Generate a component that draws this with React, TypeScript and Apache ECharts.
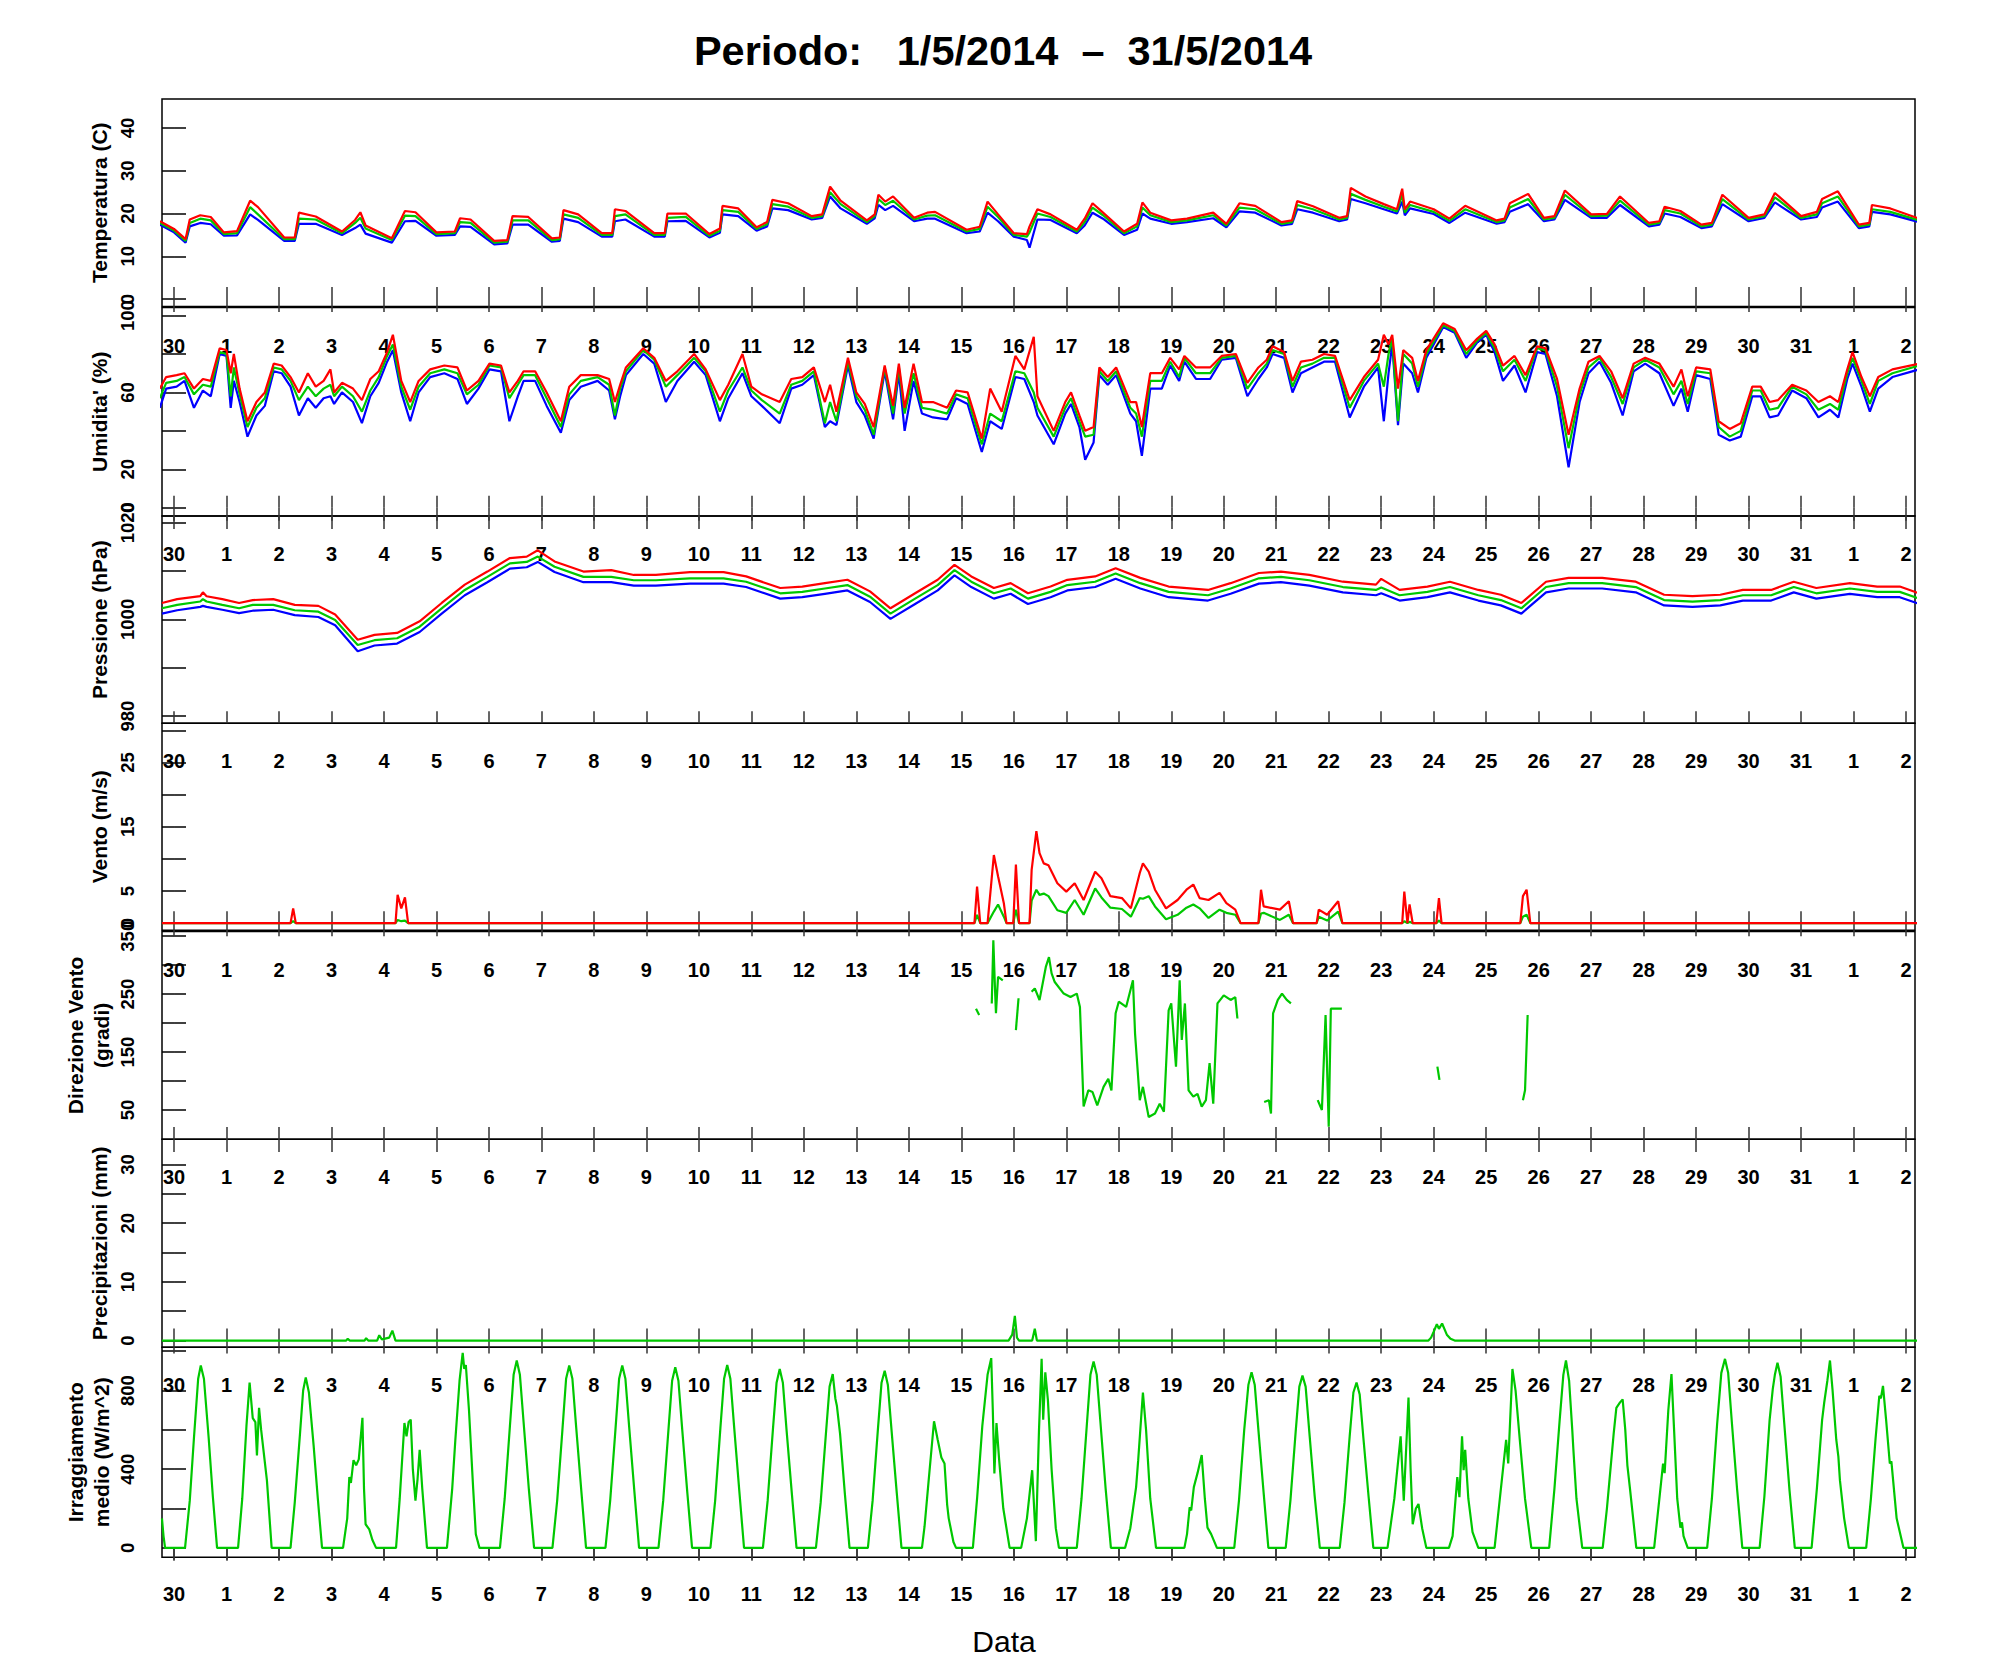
import React, { useEffect, useRef } from 'react';
import * as echarts from 'echarts';

// ---------------- DATA ----------------
// x values are days counted from 30 April 2014 00:00
const dayLabels = ['30','1','2','3','4','5','6','7','8','9','10','11','12','13','14','15','16','17','18','19','20','21','22','23','24','25','26','27','28','29','30','31','1','2'];

// [day, max(red), mean(green), min(blue)]
const tempRows: number[][] = [
[-0.27,18.2,17.8,17.4],[0.0,16.4,16.0,15.6],[0.22,14.0,13.6,13.2],[0.3,18.6,17.8,17.0],[0.5,19.6,18.8,17.8],[0.7,19.2,18.4,17.5],[0.95,15.6,15.2,14.8],
[1.2,15.9,15.4,14.9],[1.45,23.0,21.5,19.8],[1.6,21.5,19.8,18.5],[2.1,14.4,14.0,13.6],[2.3,14.4,14.0,13.6],[2.38,20.2,18.8,17.6],[2.7,19.3,18.6,17.6],
[3.2,15.8,15.4,15.0],[3.45,18.5,17.8,16.6],[3.55,20.3,19.0,17.4],[3.65,17.2,16.5,15.3],[4.15,14.2,13.8,13.2],[4.4,20.6,19.5,18.2],[4.6,20.3,19.4,18.3],
[5.0,15.6,15.2,14.8],[5.35,15.8,15.4,15.0],[5.45,18.9,18.0,17.0],[5.65,18.6,17.8,16.9],[6.1,13.6,13.2,12.8],[6.35,13.8,13.4,13.0],[6.45,19.4,18.4,17.4],
[6.75,19.2,18.4,17.4],[7.2,14.2,13.8,13.4],[7.35,14.4,14.0,13.6],[7.42,20.8,19.8,18.8],[7.7,19.8,19.0,18.0],[8.15,15.4,15.0,14.6],[8.35,15.4,15.0,14.6],
[8.4,21.0,19.4,18.2],[8.6,20.6,19.8,18.6],[9.15,15.4,15.0,14.6],[9.35,15.4,15.0,14.6],[9.4,20.0,19.0,18.2],[9.75,20.0,19.2,18.3],[10.2,15.2,14.8,14.4],
[10.4,16.5,16.0,15.5],[10.45,21.8,20.8,19.8],[10.75,21.2,20.4,19.4],[11.1,16.8,16.4,16.0],[11.3,18.0,17.5,17.0],[11.4,23.2,22.2,21.2],[11.7,22.4,21.6,20.8],
[12.15,19.4,19.0,18.6],[12.35,19.8,19.4,19.0],[12.5,26.3,25.0,24.0],[12.7,23.0,22.2,21.2],[13.2,18.4,18.0,17.6],[13.35,19.8,19.4,18.9],[13.42,24.4,23.4,22.0],
[13.55,22.8,22.0,20.8],[13.7,24.0,23.0,21.8],[14.1,19.0,18.6,18.2],[14.35,20.2,19.5,18.8],[14.5,20.4,19.6,18.8],[15.1,16.2,15.8,15.4],[15.35,16.9,16.4,15.8],
[15.5,22.8,21.6,20.2],[15.7,19.8,19.2,18.2],[16.0,15.4,15.0,14.6],[16.25,15.2,14.6,13.8],[16.3,17.0,15.6,12.0],[16.45,21.0,20.0,18.6],[16.7,19.8,19.2,18.5],
[17.2,16.2,15.8,15.4],[17.35,18.8,18.0,17.2],[17.5,22.4,21.4,20.2],[17.7,20.2,19.6,18.8],[18.1,15.8,15.4,15.0],[18.35,17.6,17.0,16.2],[18.45,22.6,21.4,20.0],
[18.6,20.2,19.6,18.8],[19.0,18.4,18.0,17.6],[19.3,18.8,18.4,18.0],[19.8,20.2,19.6,18.9],[20.05,17.6,17.2,16.8],[20.3,22.4,21.4,20.5],[20.6,21.8,21.0,20.2],
[21.1,18.0,17.6,17.2],[21.3,18.4,18.0,17.6],[21.4,22.9,22.0,21.0],[21.7,21.7,21.0,20.2],[22.2,19.0,18.6,18.2],[22.35,19.4,19.0,18.6],[22.42,26.0,24.6,23.4],
[22.7,24.0,23.2,22.4],[23.05,22.2,21.6,21.0],[23.3,21.0,20.5,20.0],[23.4,25.8,24.4,22.8],[23.45,21.0,20.2,19.6],[23.55,22.8,22.0,21.2],[24.0,21.0,20.4,19.9],
[24.3,18.8,18.3,17.8],[24.6,21.8,21.0,20.2],[25.2,18.4,18.0,17.6],[25.35,18.8,18.4,18.0],[25.45,22.4,21.4,20.4],[25.8,24.6,23.4,22.2],[26.1,19.0,18.6,18.2],
[26.3,19.4,19.0,18.6],[26.5,25.4,24.4,23.2],[27.0,19.8,19.4,19.0],[27.3,19.9,19.5,19.0],[27.55,24.0,23.0,22.0],[28.1,17.8,17.4,17.0],[28.3,18.2,17.8,17.4],
[28.4,21.6,20.8,20.0],[28.7,20.6,20.0,19.2],[29.1,17.4,17.0,16.6],[29.3,17.8,17.4,17.0],[29.5,24.4,23.4,22.2],[30.0,19.0,18.6,18.2],[30.3,19.8,19.4,19.0],
[30.5,24.8,23.8,22.6],[30.65,23.2,22.4,21.4],[31.0,19.4,19.0,18.6],[31.3,20.4,19.8,19.2],[31.4,23.4,22.4,21.4],[31.7,25.2,24.0,22.8],[32.1,17.4,17.0,16.6],
[32.3,17.8,17.4,17.0],[32.35,22.0,21.0,20.4],[32.7,21.2,20.4,19.8],[33.25,18.8,18.4,18.0]
];

// [day, max(red), mean(green), min(blue)]
const humRows: number[][] = [
[-0.27,62,57,52],[-0.15,68,65,62],[0.05,69,66,63],[0.2,70,68,66],[0.38,62,59,52],[0.55,67,64,61],[0.7,66,63,58],[0.87,83,81,80],[1.0,82,80,79],
[1.08,70,58,52],[1.14,80,73,66],[1.25,62,59,55],[1.4,45,42,37],[1.57,55,52,48],[1.73,60,57,53],[1.9,75,73,71],[2.05,74,72,70],[2.22,68,66,63],
[2.38,60,56,48],[2.55,70,63,57],[2.7,63,58,52],[2.85,66,62,57],[2.98,72,64,58],[3.05,60,58,54],[3.2,65,63,60],[3.41,62,58,55],[3.58,56,50,44],
[3.74,67,61,58],[3.9,71,68,65],[4.06,81,79,76],[4.17,90,85,82],[4.33,66,63,60],[4.5,55,51,45],[4.66,66,63,60],[4.88,72,70,68],[5.15,74,72,70],
[5.4,73,70,67],[5.58,61,59,54],[5.8,66,64,62],[6.01,75,74,72],[6.23,74,73,71],[6.39,60,57,45],[6.55,66,64,58],[6.66,71,69,66],[6.88,71,69,66],
[7.1,60,57,53],[7.37,45,42,39],[7.53,63,59,56],[7.75,69,66,63],[8.07,69,68,66],[8.29,67,64,61],[8.4,55,48,46],[8.5,64,62,58],[8.61,73,71,69],
[8.94,83,82,80],[9.15,78,77,75],[9.37,66,63,55],[9.59,71,69,66],[9.91,80,78,76],[10.13,72,71,69],[10.4,56,50,45],[10.56,64,61,57],[10.83,80,73,70],
[11.0,63,61,58],[11.2,59,56,53],[11.54,55,49,44],[11.76,67,64,62],[11.97,68,66,64],[12.19,73,71,69],[12.4,55,44,42],[12.5,64,55,45],[12.62,50,45,43],
[12.84,78,76,74],[13.0,60,58,55],[13.16,54,51,48],[13.33,42,38,36],[13.54,74,73,71],[13.7,53,49,46],[13.81,75,73,70],[13.92,52,49,40],[14.09,75,70,66],
[14.25,55,52,49],[14.46,55,51,47],[14.73,52,49,46],[14.9,61,59,57],[15.12,60,57,54],[15.39,36,33,29],[15.55,62,49,45],[15.77,50,45,41],[16.03,79,71,68],
[16.2,72,70,67],[16.38,89,60,55],[16.45,58,52,48],[16.76,40,37,33],[16.98,55,52,49],[17.09,60,57,54],[17.25,48,45,42],[17.36,40,37,25],[17.52,42,38,34],
[17.63,73,71,69],[17.79,68,66,64],[17.95,73,71,69],[18.22,55,52,49],[18.33,55,49,45],[18.44,42,37,27],[18.6,70,66,62],[18.82,70,66,62],[18.98,78,76,74],
[19.15,72,68,66],[19.25,79,78,76],[19.47,73,70,67],[19.74,73,70,67],[19.96,79,78,77],[20.23,80,79,78],[20.45,65,62,58],[20.66,73,70,67],[20.82,77,75,73],
[20.93,84,82,80],[21.15,81,80,78],[21.31,66,63,60],[21.47,76,73,70],[21.69,77,75,73],[21.91,80,78,76],[22.12,79,78,76],[22.4,56,52,47],[22.67,68,66,63],
[22.94,77,75,73],[23.05,90,63,45],[23.14,85,80,70],[23.21,90,88,85],[23.32,62,45,43],[23.42,82,80,75],[23.59,78,75,70],[23.7,66,63,60],[23.86,82,80,78],
[24.18,96,95,94],[24.4,93,92,91],[24.62,82,80,78],[24.83,88,87,86],[25.0,92,91,90],[25.16,85,83,81],[25.32,74,71,66],[25.54,79,77,74],[25.75,69,66,60],
[25.97,84,83,81],[26.13,83,82,80],[26.35,67,63,58],[26.57,38,31,21],[26.78,62,59,55],[26.95,76,73,70],[27.16,79,78,76],[27.38,71,68,65],[27.6,57,54,48],
[27.81,75,73,71],[28.03,78,77,75],[28.3,75,73,70],[28.57,63,59,53],[28.72,72,66,62],[28.84,58,54,50],[29.0,73,71,69],[29.27,72,70,67],[29.43,45,42,38],
[29.64,41,37,35],[29.85,44,40,37],[30.07,63,61,58],[30.23,63,61,58],[30.4,55,51,47],[30.56,56,52,48],[30.83,64,63,61],[31.1,61,59,57],[31.33,55,51,47],
[31.55,58,54,51],[31.71,55,51,47],[31.88,72,70,67],[31.98,81,78,75],[32.15,68,66,63],[32.31,58,54,50],[32.47,68,66,62],[32.74,72,70,68],[33.25,75,74,72]
];

// [day, max(red), mean(green), min(blue)]
const presRows: number[][] = [
[-0.23,1003.4,1002.3,1001.2],[0.06,1004.2,1003.0,1001.9],[0.5,1004.8,1003.7,1002.6],[0.55,1005.6,1004.2,1002.8],[0.62,1004.8,1003.7,1002.6],
[0.92,1004.2,1003.0,1002.0],[1.24,1003.4,1002.3,1001.3],[1.5,1004.0,1003.0,1001.8],[1.89,1004.2,1003.0,1002.0],[2.3,1003.0,1001.9,1000.9],
[2.75,1002.8,1001.6,1000.5],[3.07,1001.0,999.9,998.8],[3.5,995.8,994.7,993.4],[3.82,996.8,995.7,994.6],[4.25,997.2,996.1,995.0],
[4.68,999.6,998.5,997.4],[5.1,1003.4,1002.3,1001.2],[5.54,1007.2,1006.1,1005.0],[5.97,1009.9,1008.8,1007.7],[6.4,1012.7,1011.6,1010.5],
[6.72,1013.0,1011.9,1010.8],[6.93,1014.3,1013.0,1011.9],[7.25,1012.0,1010.9,1009.8],[7.8,1009.9,1008.8,1007.7],[8.33,1010.2,1008.8,1007.7],
[8.76,1009.2,1008.1,1007.0],[9.18,1009.2,1008.1,1007.0],[9.83,1009.8,1008.5,1007.4],[10.47,1009.8,1008.5,1007.4],[10.9,1008.9,1007.8,1006.7],
[11.55,1006.5,1005.4,1004.3],[11.97,1006.8,1005.7,1004.6],[12.4,1007.5,1006.4,1005.3],[12.83,1008.2,1007.1,1006.0],[13.26,1005.8,1004.7,1003.6],
[13.65,1002.3,1001.2,1000.1],[14.12,1005.4,1004.3,1003.2],[14.55,1008.2,1007.1,1006.0],[14.87,1011.3,1010.2,1009.1],[15.19,1008.9,1007.8,1006.7],
[15.62,1006.5,1005.4,1004.3],[15.94,1007.5,1006.4,1005.3],[16.27,1005.4,1004.3,1003.2],[16.7,1006.8,1005.7,1004.6],[17.02,1008.2,1007.1,1006.0],
[17.55,1008.9,1007.8,1006.7],[17.94,1010.6,1009.5,1008.4],[18.41,1008.6,1007.5,1006.4],[18.95,1006.8,1005.7,1004.6],[19.7,1006.1,1005.0,1003.9],
[20.13,1007.5,1006.4,1005.3],[20.67,1009.6,1008.5,1007.4],[21.09,1009.9,1008.8,1007.7],[21.63,1009.2,1008.1,1007.0],[22.27,1007.8,1006.7,1005.6],
[22.9,1007.2,1006.1,1005.0],[23.0,1008.4,1006.6,1005.4],[23.35,1006.1,1005.0,1003.9],[23.88,1006.8,1005.7,1004.6],[24.31,1007.8,1006.7,1005.6],
[24.85,1006.1,1005.0,1003.9],[25.28,1005.1,1004.0,1002.9],[25.67,1003.4,1002.3,1001.2],[26.14,1007.8,1006.7,1005.6],[26.57,1008.6,1007.5,1006.4],
[27.21,1008.6,1007.5,1006.4],[27.85,1007.8,1006.7,1005.6],[28.39,1005.1,1004.0,1002.9],[28.93,1004.8,1003.7,1002.6],[29.46,1005.1,1004.0,1002.9],
[29.89,1006.1,1005.0,1003.9],[30.43,1006.1,1005.0,1003.9],[30.86,1007.8,1006.7,1005.6],[31.29,1006.5,1005.4,1004.3],[31.93,1007.5,1006.4,1005.3],
[32.45,1006.8,1005.7,1004.6],[32.88,1006.8,1005.7,1004.6],[33.25,1005.4,1004.3,1003.2]
];

// [day, gust(red), mean(green)]
const windRows: number[][] = [
[-0.23,0,0],[2.22,0,0],[2.27,2.3,0.3],[2.32,0,0],[4.22,0,0],[4.26,4.4,0.5],[4.33,2.3,0.3],[4.4,4.0,0.4],[4.46,0,0],
[15.25,0,0],[15.3,5.7,1.3],[15.36,0,0],[15.5,0,0],[15.62,10.6,1.8],[15.7,7.3,2.9],[15.81,3.1,1.0],[15.86,0,0],[15.99,0,0],[16.04,9.1,2.1],[16.1,0,0],
[16.3,0,0],[16.34,8.3,3.5],[16.43,14.3,5.2],[16.49,10.9,4.4],[16.57,9.3,4.6],[16.66,9.0,4.2],[16.83,6.2,2.0],[17.0,4.9,1.6],[17.16,6.2,3.6],[17.33,3.6,1.3],
[17.55,8.0,5.4],[17.67,7.0,4.0],[17.84,4.2,2.4],[18.06,3.9,2.2],[18.23,2.3,1.0],[18.4,7.8,3.9],[18.46,9.3,3.8],[18.57,8.0,4.2],[18.69,5.2,2.6],
[18.9,2.3,0.6],[19.12,3.6,1.3],[19.29,5.2,2.4],[19.42,6.0,2.9],[19.54,3.9,2.3],[19.71,3.6,0.8],[19.92,4.7,2.1],[20.05,3.1,1.6],[20.22,2.1,1.3],[20.32,0,0],
[20.66,0,0],[20.71,5.2,1.5],[20.76,2.6,1.6],[21.07,2.1,0.5],[21.24,3.4,1.3],[21.32,0,0],[21.77,0,0],[21.81,2.1,1.0],[21.97,1.3,0.4],[22.18,3.4,1.8],[22.26,0,0],
[23.4,0,0],[23.44,4.9,0.3],[23.5,0,0],[23.54,2.9,0.2],[23.6,0,0],[24.05,0,0],[24.1,3.9,0.4],[24.15,0,0],[25.65,0,0],[25.7,4.2,1.0],[25.77,5.2,1.3],[25.84,0,0],
[33.25,0,0]
];

// wind direction, separate recorded stretches [day, degrees]
const dirSegments: number[][][] = [
[[15.28,225],[15.34,214]],
[[15.58,234],[15.61,343],[15.64,263],[15.66,217],[15.7,280],[15.79,274]],
[[16.04,188],[16.09,243]],
[[16.34,254],[16.4,260],[16.49,240],[16.61,297],[16.67,314],[16.72,286],[16.78,271],[16.95,251],[17.08,245],[17.2,251],[17.26,228],[17.33,56],[17.42,84],
 [17.5,81],[17.59,58],[17.71,90],[17.8,104],[17.86,84],[17.94,217],[18.0,237],[18.14,228],[18.27,274],[18.31,182],[18.4,67],[18.46,90],[18.57,38],[18.69,44],
 [18.78,61],[18.86,47],[18.95,222],[19.0,234],[19.09,125],[19.16,274],[19.2,171],[19.26,234],[19.33,84],[19.42,73],[19.5,78],[19.58,56],[19.66,67],[19.73,131],
 [19.8,61],[19.88,234],[20.0,248],[20.13,240],[20.22,245],[20.26,208]],
[[20.77,64],[20.86,67],[20.9,44],[20.94,217],[21.03,240],[21.11,251],[21.2,240],[21.28,234]],
[[21.79,67],[21.87,50],[21.94,214],[22.0,21],[22.04,225],[22.25,225]],
[[24.07,125],[24.11,102]],
[[25.7,67],[25.74,84],[25.79,214]]
];

// [day, mm]
const precip: number[][] = [
[-0.23,0],[3.28,0],[3.31,0.3],[3.35,0],[3.63,0],[3.66,0.4],[3.7,0],[3.87,0],[3.91,0.9],[3.96,0.2],[4.1,0.5],[4.16,1.7],[4.22,0],
[15.9,0],[15.97,1.0],[16.02,4.2],[16.06,0.5],[16.1,0],[16.35,0],[16.4,2.0],[16.44,0],
[23.9,0],[23.95,0.5],[24.0,1.5],[24.06,2.8],[24.1,2.0],[24.16,2.9],[24.25,1.0],[24.32,0.3],[24.4,0],[33.25,0]
];

// [day, W/m^2]
const irradiance: number[][] = [
[-0.23,150],[-0.2,60],[-0.17,0],
[0.21,0],[0.3,240],[0.38,560],[0.46,860],[0.51,927],[0.57,860],[0.66,560],[0.74,260],[0.82,0],
[1.22,0],[1.3,250],[1.38,620],[1.44,841],[1.5,660],[1.55,640],[1.58,470],[1.62,712],[1.66,600],[1.77,343],[1.86,0],
[2.22,0],[2.3,230],[2.4,580],[2.46,800],[2.51,867],[2.57,790],[2.66,520],[2.74,250],[2.82,0],
[3.22,0],[3.3,150],[3.34,360],[3.37,330],[3.42,446],[3.47,420],[3.52,450],[3.59,661],[3.62,300],[3.65,120],[3.72,94],[3.78,40],[3.85,0],
[4.23,0],[4.3,250],[4.39,635],[4.43,567],[4.47,640],[4.51,652],[4.55,400],[4.6,240],[4.64,350],[4.68,498],[4.73,300],[4.82,0],
[5.2,0],[5.3,300],[5.36,549],[5.44,850],[5.5,992],[5.53,910],[5.56,930],[5.62,700],[5.7,300],[5.75,69],[5.82,0],
[6.21,0],[6.3,250],[6.4,620],[6.47,880],[6.53,953],[6.59,880],[6.66,640],[6.76,300],[6.86,0],
[7.21,0],[7.3,240],[7.4,600],[7.47,860],[7.53,927],[7.59,860],[7.66,620],[7.76,290],[7.85,0],
[8.22,0],[8.31,240],[8.41,600],[8.48,860],[8.54,927],[8.6,860],[8.67,620],[8.77,290],[8.86,0],
[9.23,0],[9.32,240],[9.42,600],[9.49,850],[9.55,918],[9.61,850],[9.68,610],[9.78,280],[9.87,0],
[10.22,0],[10.31,240],[10.41,610],[10.48,860],[10.54,930],[10.6,860],[10.67,620],[10.77,290],[10.86,0],
[11.22,0],[11.31,240],[11.41,600],[11.48,840],[11.54,910],[11.6,840],[11.67,600],[11.77,280],[11.86,0],
[12.23,0],[12.32,230],[12.42,580],[12.49,820],[12.55,884],[12.6,760],[12.63,721],[12.69,580],[12.78,280],[12.87,0],
[13.22,0],[13.31,240],[13.41,600],[13.48,840],[13.54,901],[13.6,830],[13.67,600],[13.77,280],[13.86,0],
[14.25,0],[14.3,110],[14.38,350],[14.48,644],[14.55,550],[14.62,460],[14.68,429],[14.73,220],[14.76,150],[14.85,30],[14.9,0],
[15.22,0],[15.3,250],[15.4,620],[15.5,880],[15.57,965],[15.6,700],[15.63,378],[15.67,635],[15.72,450],[15.8,200],[15.92,0],
[16.14,0],[16.25,150],[16.35,395],[16.42,34],[16.48,600],[16.53,961],[16.56,652],[16.6,893],[16.65,750],[16.72,400],[16.8,100],[16.86,0],
[17.2,0],[17.29,250],[17.39,620],[17.46,880],[17.52,948],[17.58,880],[17.65,640],[17.75,300],[17.85,0],
[18.12,0],[18.22,100],[18.33,309],[18.37,446],[18.46,790],[18.52,600],[18.6,250],[18.71,0],
[19.25,0],[19.3,70],[19.35,206],[19.38,190],[19.43,309],[19.5,380],[19.58,472],[19.64,250],[19.69,103],[19.76,70],[19.87,0],
[20.2,0],[20.29,240],[20.39,600],[20.47,830],[20.53,893],[20.59,830],[20.66,600],[20.76,280],[20.85,0],
[21.18,0],[21.27,240],[21.37,590],[21.44,820],[21.5,876],[21.56,820],[21.63,590],[21.73,270],[21.83,0],
[22.21,0],[22.3,230],[22.4,570],[22.47,790],[22.53,841],[22.59,780],[22.66,560],[22.76,260],[22.85,0],
[23.12,0],[23.25,250],[23.37,567],[23.43,240],[23.52,764],[23.56,400],[23.6,120],[23.66,200],[23.71,223],[23.78,100],[23.86,0],
[24.29,0],[24.36,60],[24.45,360],[24.49,258],[24.54,567],[24.57,395],[24.6,498],[24.66,250],[24.74,80],[24.85,0],
[25.16,0],[25.28,300],[25.38,549],[25.42,429],[25.5,910],[25.56,800],[25.64,550],[25.74,250],[25.86,0],
[26.2,0],[26.3,300],[26.4,650],[26.47,880],[26.52,953],[26.58,850],[26.64,600],[26.66,506],[26.72,250],[26.83,0],
[27.22,0],[27.3,200],[27.43,584],[27.48,712],[27.55,740],[27.6,755],[27.65,600],[27.69,420],[27.74,300],[27.8,150],[27.86,0],
[28.2,0],[28.3,250],[28.37,429],[28.4,380],[28.47,700],[28.53,884],[28.58,600],[28.64,250],[28.7,103],[28.73,130],[28.76,60],[28.84,0],
[29.21,0],[29.3,250],[29.4,630],[29.48,890],[29.55,961],[29.61,890],[29.68,640],[29.78,300],[29.88,0],
[30.21,0],[30.3,260],[30.4,650],[30.46,807],[30.5,880],[30.55,941],[30.61,870],[30.68,630],[30.78,290],[30.88,0],
[31.2,0],[31.3,300],[31.4,650],[31.44,738],[31.5,850],[31.55,953],[31.6,800],[31.67,550],[31.71,464],[31.74,343],[31.82,150],[31.91,0],
[32.24,0],[32.33,250],[32.42,560],[32.49,773],[32.52,760],[32.56,824],[32.62,650],[32.69,429],[32.72,440],[32.82,150],[32.95,0],
[33.25,0]
];

// y-axis tick values and labelled values per panel
const tempTicks = [0, 10, 20, 30, 40];
const tempLabels = [0, 10, 20, 30, 40];
const humTicks = [0, 20, 40, 60, 80, 100];
const humLabels = [0, 20, 60, 100];
const presTicks = [980, 990, 1000, 1010, 1020];
const presLabels = [980, 1000, 1020];
const windTicks = [0, 5, 10, 15, 20, 25, 30];
const windLabels = [0, 5, 15, 25];
const dirTicks = [50, 100, 150, 200, 250, 300, 350];
const dirLabels = [50, 150, 250, 350];
const precTicks = [0, 5, 10, 15, 20, 25, 30];
const precLabels = [0, 10, 20, 30];
const irrTicks = [0, 200, 400, 600, 800, 1000];
const irrLabels = [0, 400, 800];

const titleText = 'Periodo:\u00a0\u00a0\u00a01/5/2014\u00a0\u00a0\u2013\u00a0\u00a031/5/2014';
const xTitle = 'Data';
const yTitles: string[][] = [
  ['Temperatura (C)'], ["Umidita' (%)"], ['Pressione (hPa)'], ['Vento (m/s)'],
  ['Direzione Vento', '(gradi)'], ['Precipitazioni (mm)'], ['Irraggiamento', 'medio (W/m^2)'],
];

// ---------------- LAYOUT ----------------
const RED = '#ff0000', GREEN = '#00c800', BLUE = '#0000ff';
const FONT = '"Liberation Sans", Arial, Helvetica, sans-serif';
const LEFT = 162, RIGHT_EDGE = 1915;
const X_MIN = -0.229, X_MAX = 33.17;

const panels = [
  { top: 99, height: 207.5, min: -1.75, max: 46.8, ticks: tempTicks, labels: tempLabels },
  { top: 307.5, height: 208.5, min: -4.3, max: 104.2, ticks: humTicks, labels: humLabels },
  { top: 516, height: 207.3, min: 978.5, max: 1021.4, ticks: presTicks, labels: presLabels },
  { top: 723.3, height: 206.9, min: -1.1, max: 31.1, ticks: windTicks, labels: windLabels },
  { top: 931.6, height: 207.7, min: -0.5, max: 358, ticks: dirTicks, labels: dirLabels },
  { top: 1139.3, height: 208, min: -1.15, max: 34.3, ticks: precTicks, labels: precLabels },
  { top: 1347.3, height: 210, min: -48, max: 1020, ticks: irrTicks, labels: irrLabels },
];

function buildOption() {
  const dayVals = dayLabels.map((_, i) => i);
  const grid: any[] = [];
  const xAxis: any[] = [];
  const yAxis: any[] = [];
  const series: any[] = [];
  const graphic: any[] = [];
  const tickStyle = { color: '#333', width: 1.5 };
  const xLabelFmt = (v: number) => dayLabels[Math.round(v)] ?? '';

  panels.forEach((p, i) => {
    grid.push({
      left: LEFT, top: p.top, width: RIGHT_EDGE - LEFT, height: p.height,
      show: true, borderColor: '#000', borderWidth: 1.5, backgroundColor: 'transparent',
    });
    const last = i === panels.length - 1;
    // bottom x axis
    xAxis.push({
      gridIndex: i, type: 'value', min: X_MIN, max: X_MAX, position: 'bottom',
      axisLine: { show: false }, splitLine: { show: false },
      axisTick: { show: true, inside: !last, length: 12, lineStyle: tickStyle, customValues: dayVals },
      axisLabel: {
        show: last, customValues: dayVals, formatter: xLabelFmt, margin: 27,
        fontSize: 20, fontWeight: 'bold', color: '#000', fontFamily: FONT,
      },
    });
    // top x axis
    xAxis.push({
      gridIndex: i, type: 'value', min: X_MIN, max: X_MAX, position: 'top',
      axisLine: { show: false }, splitLine: { show: false },
      axisTick: { show: true, inside: true, length: 13, lineStyle: tickStyle, customValues: dayVals },
      axisLabel: {
        show: i > 0, inside: true, customValues: dayVals, formatter: xLabelFmt, margin: 28,
        fontSize: 20, fontWeight: 'bold', color: '#000', fontFamily: FONT,
      },
    });
    // left y axis
    yAxis.push({
      gridIndex: i, type: 'value', min: p.min, max: p.max, position: 'left',
      axisLine: { show: false }, splitLine: { show: false },
      axisTick: { show: true, inside: false, length: 12, lineStyle: { color: '#000', width: 1.5 }, customValues: p.ticks },
      axisLabel: {
        show: true, customValues: p.labels, rotate: 90, margin: 25,
        fontSize: 18.5, fontWeight: 'bold', color: '#000', fontFamily: FONT,
        formatter: (v: number) => String(v),
      },
    });
    // right y axis
    yAxis.push({
      gridIndex: i, type: 'value', min: p.min, max: p.max, position: 'right',
      axisLine: { show: false }, splitLine: { show: false },
      axisTick: { show: true, inside: false, length: 12, lineStyle: { color: '#000', width: 1.5 }, customValues: p.ticks },
      axisLabel: { show: false },
    });

    // y titles
    const cy = p.top + p.height / 2;
    const lines = yTitles[i];
    const xs = lines.length === 1 ? [99] : [75, 101];
    lines.forEach((t, k) => {
      graphic.push({
        type: 'text', x: xs[k], y: cy, rotation: Math.PI / 2, silent: true,
        style: {
          text: t, fill: '#000', font: `bold 21px ${FONT}`,
          align: 'center', verticalAlign: 'middle', textAlign: 'center', textVerticalAlign: 'middle',
        },
      });
    });
  });

  const line = (name: string, gi: number, data: any[], color: string) => ({
    name, type: 'line', xAxisIndex: gi * 2, yAxisIndex: gi * 2, data,
    showSymbol: false, symbol: 'none', clip: true, silent: true,
    lineStyle: { color, width: 2.2 }, itemStyle: { color },
  });

  // temperature
  series.push(line('T min', 0, tempRows.map(r => [r[0], r[3]]), BLUE));
  series.push(line('T med', 0, tempRows.map(r => [r[0], r[2]]), GREEN));
  series.push(line('T max', 0, tempRows.map(r => [r[0], r[1]]), RED));
  // humidity
  series.push(line('U min', 1, humRows.map(r => [r[0], r[3]]), BLUE));
  series.push(line('U med', 1, humRows.map(r => [r[0], r[2]]), GREEN));
  series.push(line('U max', 1, humRows.map(r => [r[0], r[1]]), RED));
  // pressure
  series.push(line('P min', 2, presRows.map(r => [r[0], r[3]]), BLUE));
  series.push(line('P med', 2, presRows.map(r => [r[0], r[2]]), GREEN));
  series.push(line('P max', 2, presRows.map(r => [r[0], r[1]]), RED));
  // wind
  series.push(line('V med', 3, windRows.map(r => [r[0], r[2]]), GREEN));
  series.push(line('V max', 3, windRows.map(r => [r[0], r[1]]), RED));
  // direction
  dirSegments.forEach((seg, k) => series.push(line('Dir ' + k, 4, seg, GREEN)));
  // precipitation
  series.push(line('Prec', 5, precip, GREEN));
  // irradiance
  series.push(line('Irr', 6, irradiance, GREEN));

  graphic.push({
    type: 'text', x: 1003, y: 50, silent: true,
    style: {
      text: titleText, fill: '#000', font: `bold 41.5px ${FONT}`,
      align: 'center', verticalAlign: 'middle', textAlign: 'center', textVerticalAlign: 'middle',
    },
  });
  graphic.push({
    type: 'text', x: 1004, y: 1641, silent: true,
    style: {
      text: xTitle, fill: '#000', font: `30px ${FONT}`,
      align: 'center', verticalAlign: 'middle', textAlign: 'center', textVerticalAlign: 'middle',
    },
  });

  return {
    animation: false,
    backgroundColor: '#ffffff',
    grid, xAxis, yAxis, series, graphic,
  };
}

export default function App() {
  const ref = useRef<HTMLDivElement | null>(null);
  useEffect(() => {
    document.body.style.margin = '0';
    if (!ref.current) return;
    const chart = echarts.init(ref.current, undefined, { renderer: 'svg' });
    chart.setOption(buildOption() as any);
    return () => chart.dispose();
  }, []);
  return <div ref={ref} style={{ width: 1991, height: 1680, background: '#fff' }} />;
}
